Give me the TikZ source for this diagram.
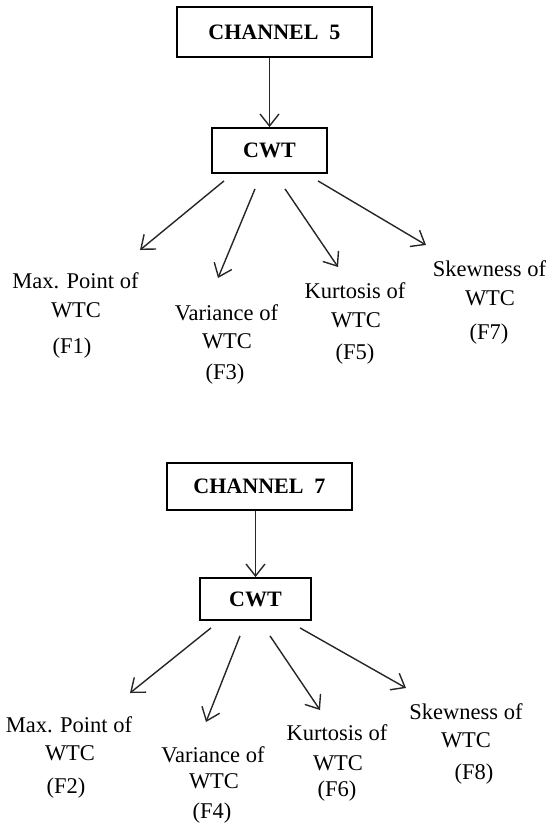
\documentclass[tikz,border=0pt]{standalone}
\usepackage{fontspec}
\setmainfont{Liberation Serif}
\usetikzlibrary{arrows.meta}
\begin{document}
\begin{tikzpicture}[x=1pt,y=-1pt,
  box/.style={draw=black, line width=1.8pt, inner sep=0pt, font=\fontsize{22}{26}\selectfont\bfseries},
  lbl/.style={inner sep=0pt, anchor=base, font=\fontsize{22.5}{27}\selectfont},
  arr/.style={draw=black!85, line width=1.4pt, -{Straight Barb[length=12pt,width=19pt]}}]
\useasboundingbox (0,0) rectangle (549,823);

% ---------- Channel 5 ----------
\node[box, minimum width=195pt, minimum height=50pt] (c5) at (274.5,32) {CHANNEL\ \ 5};
\node[box, minimum width=115pt, minimum height=45pt] (w5) at (269.5,150.5) {CWT};
\draw[arr] (c5.south -| w5.north) -- (w5.north);

\node[lbl] (f1a) at (75.5,288) {Max. Point of};
\node[lbl] (f1b) at (76,317) {WTC};
\node[lbl] (f1c) at (72,353) {(F1)};
\node[lbl] (f3a) at (226.5,320) {Variance\ of};
\node[lbl] (f3b) at (227,348) {WTC};
\node[lbl] (f3c) at (225,379) {(F3)};
\node[lbl] (f5a) at (355,298) {Kurtosis of};
\node[lbl] (f5b) at (356,327) {WTC};
\node[lbl] (f5c) at (355,359) {(F5)};
\node[lbl] (f7a) at (489.5,276) {Skewness of};
\node[lbl] (f7b) at (490,305) {WTC};
\node[lbl] (f7c) at (489,339) {(F7)};

\coordinate (t1) at (140,250);
\coordinate (t3) at (218,278);
\coordinate (t5) at (338,267);
\coordinate (t7) at (426,245);
\draw[arr] ([shift={(-45.5,7)}]w5.south) -- (t1);
\draw[arr] ([shift={(-14.5,15)}]w5.south) -- (t3);
\draw[arr] ([shift={(15.5,15)}]w5.south) -- (t5);
\draw[arr] ([shift={(48.5,7)}]w5.south) -- (t7);

% ---------- Channel 7 ----------
\node[box, minimum width=185pt, minimum height=47pt] (c7) at (259.5,486.5) {CHANNEL\ \ 7};
\node[box, minimum width=111pt, minimum height=42pt] (w7) at (255.5,599) {CWT};
\draw[arr] (c7.south -| w7.north) -- (w7.north);

\node[lbl] (f2a) at (69,732) {Max. Point of};
\node[lbl] (f2b) at (70,760) {WTC};
\node[lbl] (f2c) at (66,793) {(F2)};
\node[lbl] (f4a) at (213,762) {Variance\ of};
\node[lbl] (f4b) at (214,788) {WTC};
\node[lbl] (f4c) at (212,818) {(F4)};
\node[lbl] (f6a) at (337,740) {Kurtosis of};
\node[lbl] (f6b) at (338,770) {WTC};
\node[lbl] (f6c) at (337,796) {(F6)};
\node[lbl] (f8a) at (466,719) {Skewness of};
\node[lbl] (f8b) at (466,747) {WTC};
\node[lbl] (f8c) at (474,779) {(F8)};

\coordinate (b1) at (130,693);
\coordinate (b3) at (206,722);
\coordinate (b5) at (320,710);
\coordinate (b7) at (406,688);
\draw[arr] ([shift={(-44.5,7)}]w7.south) -- (b1);
\draw[arr] ([shift={(-15.5,15)}]w7.south) -- (b3);
\draw[arr] ([shift={(14.5,15)}]w7.south) -- (b5);
\draw[arr] ([shift={(44.5,7)}]w7.south) -- (b7);
\end{tikzpicture}
\end{document}
